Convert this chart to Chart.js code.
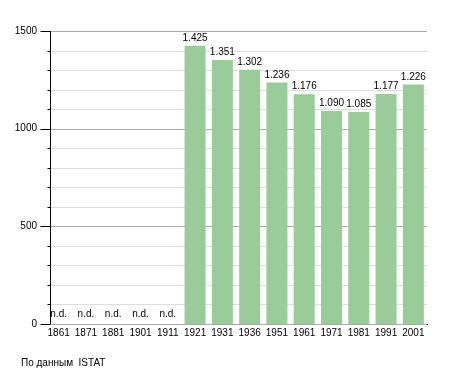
<!DOCTYPE html>
<html>
<head>
<meta charset="utf-8">
<script src="https://cdn.jsdelivr.net/npm/chart.js@4.4.1/dist/chart.umd.min.js"></script>
<style>
    html, body { margin: 0; padding: 0; background: #fff; }
    #chart { display: block; }
</style>
</head>
<body>
<canvas id="chart" width="455" height="373"></canvas>
<script>
// Data
const years = ['1861', '1871', '1881', '1901', '1911', '1921', '1931', '1936', '1951', '1961', '1971', '1981', '1991', '2001'];
const population = [null, null, null, null, null, 1425, 1351, 1302, 1236, 1176, 1090, 1085, 1177, 1226];
const yTickValues = [0, 500, 1000, 1500];
const yMinorStep = 100;
const sourceNote = 'По данным  ISTAT';

const FONT = '10px "Liberation Sans", Arial, sans-serif';

// Italian style thousands separator
function formatNumber(v) {
    return String(v).replace(/\B(?=(\d{3})+(?!\d))/g, '.');
}

function gridValues(scale) {
    const vals = [];
    for (let v = scale.min; v <= scale.max; v += yMinorStep) vals.push(v);
    return vals;
}

// Grid, axis line and tick marks drawn like the original
const axisPlugin = {
    id: 'axisPlugin',
    beforeDatasetsDraw(chart) {
        const { ctx, chartArea, scales } = chart;
        const y = scales.y;
        const axisX = chartArea.left + 5;
        ctx.save();
        gridValues(y).forEach(v => {
            const py = Math.round(y.getPixelForValue(v)) + 0.5;
            ctx.strokeStyle = yTickValues.includes(v) ? '#aaaaaa' : '#dddddd';
            ctx.lineWidth = 1;
            ctx.beginPath();
            ctx.moveTo(axisX, py);
            ctx.lineTo(chartArea.right, py);
            ctx.stroke();
        });
        ctx.restore();
    },
    afterDatasetsDraw(chart) {
        const { ctx, chartArea, scales } = chart;
        const y = scales.y;
        const axisX = Math.round(chartArea.left + 5) + 0.5;
        ctx.save();
        ctx.strokeStyle = '#000';
        ctx.lineWidth = 1;
        ctx.beginPath();
        ctx.moveTo(axisX, chartArea.top);
        ctx.lineTo(axisX, chartArea.bottom);
        ctx.stroke();
        gridValues(y).forEach(v => {
            const py = Math.round(y.getPixelForValue(v)) + 0.5;
            const len = yTickValues.includes(v) ? 10 : 3;
            ctx.beginPath();
            ctx.moveTo(axisX - len, py);
            ctx.lineTo(axisX, py);
            ctx.stroke();
        });

        // value labels and n.d.
        ctx.fillStyle = '#000';
        ctx.font = FONT;
        ctx.textAlign = 'center';
        ctx.textBaseline = 'alphabetic';
        const meta = chart.getDatasetMeta(0);
        meta.data.forEach((bar, i) => {
            const v = population[i];
            if (v === null) {
                ctx.fillText('n.d.', scales.x.getPixelForValue(i), chartArea.bottom - 7);
            } else {
                ctx.fillText(formatNumber(v), bar.x, bar.y - 5);
            }
        });

        // source note
        ctx.textAlign = 'left';
        ctx.fillText(sourceNote, 21, 366);
        ctx.restore();
    }
};

new Chart(document.getElementById('chart'), {
    type: 'bar',
    data: {
        labels: years,
        datasets: [{
            data: population,
            backgroundColor: '#99cc99',
            borderWidth: 0,
            barPercentage: 0.77,
            categoryPercentage: 1.0
        }]
    },
    options: {
        responsive: false,
        animation: false,
        devicePixelRatio: 1,
        layout: { padding: { top: 31, right: 28, bottom: 29, left: 0 } },
        plugins: {
            legend: { display: false },
            tooltip: { enabled: false }
        },
        scales: {
            x: {
                grid: { display: false, drawTicks: false },
                border: { display: true, color: '#000', width: 1 },
                ticks: {
                    color: '#000',
                    font: { family: '"Liberation Sans", Arial, sans-serif', size: 10 },
                    padding: 3,
                    maxRotation: 0,
                    autoSkip: false
                },
                afterFit: scale => { scale.height = 20; }
            },
            y: {
                min: 0,
                max: 1500,
                grid: { display: false, drawTicks: false },
                border: { display: false },
                ticks: {
                    stepSize: 500,
                    color: '#000',
                    font: { family: '"Liberation Sans", Arial, sans-serif', size: 10 },
                    padding: 8,
                    callback: v => String(v)
                },
                afterFit: scale => { scale.width = 45; }
            }
        }
    },
    plugins: [axisPlugin]
});
</script>
</body>
</html>
